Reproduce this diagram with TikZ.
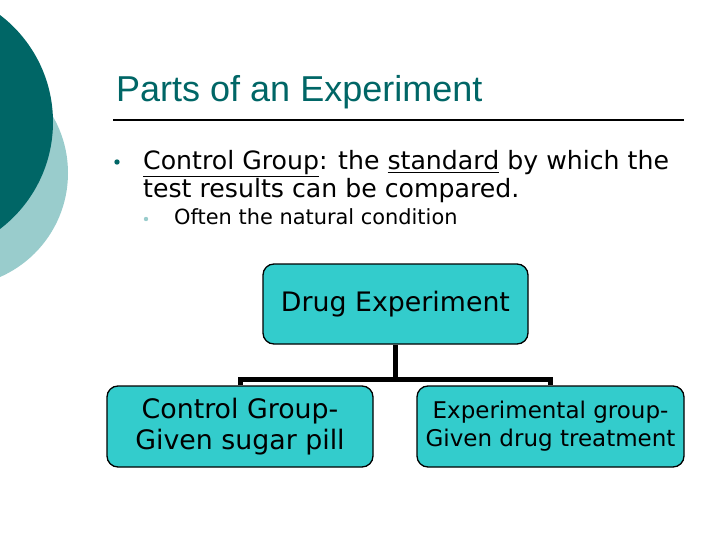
\documentclass[tikz,border=0pt]{standalone}
\usepackage{fontspec}
\setmainfont{DejaVu Sans}
\newfontfamily\titlefont{Liberation Sans}
\definecolor{darkteal}{RGB}{0,102,102}
\definecolor{lightteal}{RGB}{153,204,204}
\definecolor{boxfill}{RGB}{51,204,204}
\begin{document}
\begin{tikzpicture}[x=1pt,y=-1pt,
  orgbox/.style={draw=black, line width=1.3pt, fill=boxfill, rounded corners=11pt, align=center, inner sep=0pt},
  conn/.style={draw=black, line width=5pt},
  bodytext/.style={anchor=base west, inner sep=0pt, font=\fontsize{25.2}{28}\selectfont}]
\useasboundingbox (0,0) rectangle (720,540);
\fill[white] (0,0) rectangle (720,540);
% decorative circles
\begin{scope}
\clip (0,0) rectangle (720,540);
\fill[lightteal] (-45.5,173) circle (113.5);
\fill[darkteal] (-81.5,122) circle (134.5);
\end{scope}
% title
\node[anchor=base west, inner sep=0pt, text=darkteal, font=\titlefont\fontsize{36}{40}\selectfont] (title) at (116,102) {Parts of an Experiment};
\coordinate (rl) at (113,120);
\coordinate (rr) at (684,120);
\draw[line width=1.3pt] (rl) -- (rr);
% bullets
\fill[darkteal] (117,162) circle (2.7);
\node[bodytext] (l1) at (143,170) {\underline{Control Group}: the \underline{standard} by which the};
\node[bodytext] (l2) at (143,197) {test results can be compared.};
\fill[lightteal] (146,219) circle (2.2);
\node[anchor=base west, inner sep=0pt, font=\fontsize{20.9}{23}\selectfont] (l3) at (174,225) {Often the natural condition};
% org chart
\node[orgbox, minimum width=265pt, minimum height=80pt, font=\fontsize{26.8}{30}\selectfont] (top) at (395.5,304) {Drug Experiment};
\node[orgbox, minimum width=266pt, minimum height=81pt, font=\fontsize{26.8}{31}\selectfont] (left) at (240,426.5) {Control Group-\\Given sugar pill};
\node[orgbox, minimum width=267pt, minimum height=81pt, font=\fontsize{23}{28}\selectfont] (right) at (550.5,426.5) {Experimental group-\\Given drug treatment};
\coordinate (bar) at (0,379);
\draw[conn] (top.south) -- (top.south |- bar);
\draw[conn] (left.north) |- (right.north |- bar) -- (right.north);
\end{tikzpicture}
\end{document}
